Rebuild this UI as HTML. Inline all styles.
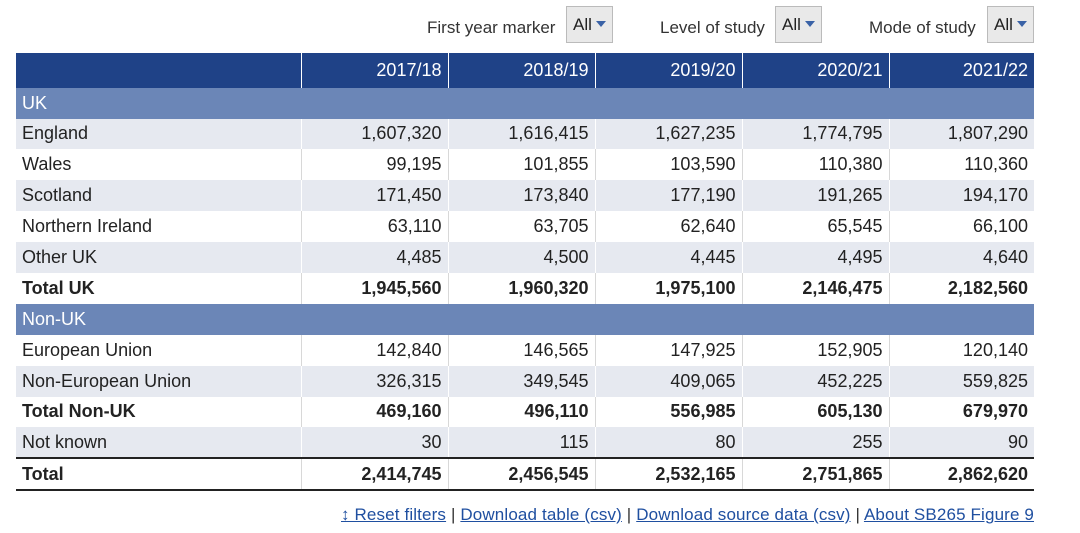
<!DOCTYPE html>
<html><head><style>
body{margin:0;background:#fff;font-family:"Liberation Sans",Arial,sans-serif;width:1080px;height:533px;overflow:hidden;position:relative;color:#222}
.f{position:absolute;top:0;font-size:17px;color:#333}
.sel{position:absolute;top:6px;height:37px;border:1px solid #bbb;background:#e9e9e9;font-size:17px;box-sizing:border-box;padding:8px 0 0 6px;color:#222}
.sel:after{content:"";position:absolute;right:6px;top:14px;border:5px solid transparent;border-top:6px solid #3a62a6;border-bottom:0}
table{position:absolute;left:16px;top:53px;border-collapse:collapse;font-size:18px;table-layout:fixed;width:1018px}
td,th{padding:0 6px;height:30.95px;box-sizing:border-box;text-align:right;border-left:1px solid #d8d8d8;white-space:nowrap}
td:first-child,th:first-child{text-align:left;border-left:0}
th{background:#1f4287;color:#fff;font-weight:normal;height:35px;border-left:1px solid #fff}
.s td{background:#6b86b7;color:#fff;height:30.5px}
.g td{background:#e6e9f0;border-left-color:#fff}
.b td{font-weight:bold}
.t td{border-top:2px solid #222;border-bottom:2px solid #222;height:32px}
.links{position:absolute;top:505px;left:341px;font-size:17px;color:#333;letter-spacing:0.14px}
.links a{color:#1f4fa0;text-decoration:underline}
</style></head><body>
<div class="f" style="left:427px;top:18px">First year marker</div>
<div class="sel" style="left:566px;width:47px">All</div>
<div class="f" style="left:660px;top:18px">Level of study</div>
<div class="sel" style="left:775px;width:47px">All</div>
<div class="f" style="left:869px;top:18px">Mode of study</div>
<div class="sel" style="left:987px;width:47px">All</div>
<table>
<colgroup><col style="width:285px"><col style="width:147px"><col style="width:147px"><col style="width:147px"><col style="width:147px"><col style="width:145px"></colgroup>
<tr><th></th><th>2017/18</th><th>2018/19</th><th>2019/20</th><th>2020/21</th><th>2021/22</th></tr>
<tr class="s"><td colspan="6">UK</td></tr>
<tr class="g"><td>England</td><td>1,607,320</td><td>1,616,415</td><td>1,627,235</td><td>1,774,795</td><td>1,807,290</td></tr>
<tr><td>Wales</td><td>99,195</td><td>101,855</td><td>103,590</td><td>110,380</td><td>110,360</td></tr>
<tr class="g"><td>Scotland</td><td>171,450</td><td>173,840</td><td>177,190</td><td>191,265</td><td>194,170</td></tr>
<tr><td>Northern Ireland</td><td>63,110</td><td>63,705</td><td>62,640</td><td>65,545</td><td>66,100</td></tr>
<tr class="g"><td>Other UK</td><td>4,485</td><td>4,500</td><td>4,445</td><td>4,495</td><td>4,640</td></tr>
<tr class="b"><td>Total UK</td><td>1,945,560</td><td>1,960,320</td><td>1,975,100</td><td>2,146,475</td><td>2,182,560</td></tr>
<tr class="s"><td colspan="6">Non-UK</td></tr>
<tr><td>European Union</td><td>142,840</td><td>146,565</td><td>147,925</td><td>152,905</td><td>120,140</td></tr>
<tr class="g"><td>Non-European Union</td><td>326,315</td><td>349,545</td><td>409,065</td><td>452,225</td><td>559,825</td></tr>
<tr class="b"><td>Total Non-UK</td><td>469,160</td><td>496,110</td><td>556,985</td><td>605,130</td><td>679,970</td></tr>
<tr class="g"><td>Not known</td><td>30</td><td>115</td><td>80</td><td>255</td><td>90</td></tr>
<tr class="b t"><td>Total</td><td>2,414,745</td><td>2,456,545</td><td>2,532,165</td><td>2,751,865</td><td>2,862,620</td></tr>
</table>
<div class="links"><a>↕ Reset filters</a> | <a>Download table (csv)</a> | <a>Download source data (csv)</a> | <a>About SB265 Figure 9</a></div>
</body></html>
